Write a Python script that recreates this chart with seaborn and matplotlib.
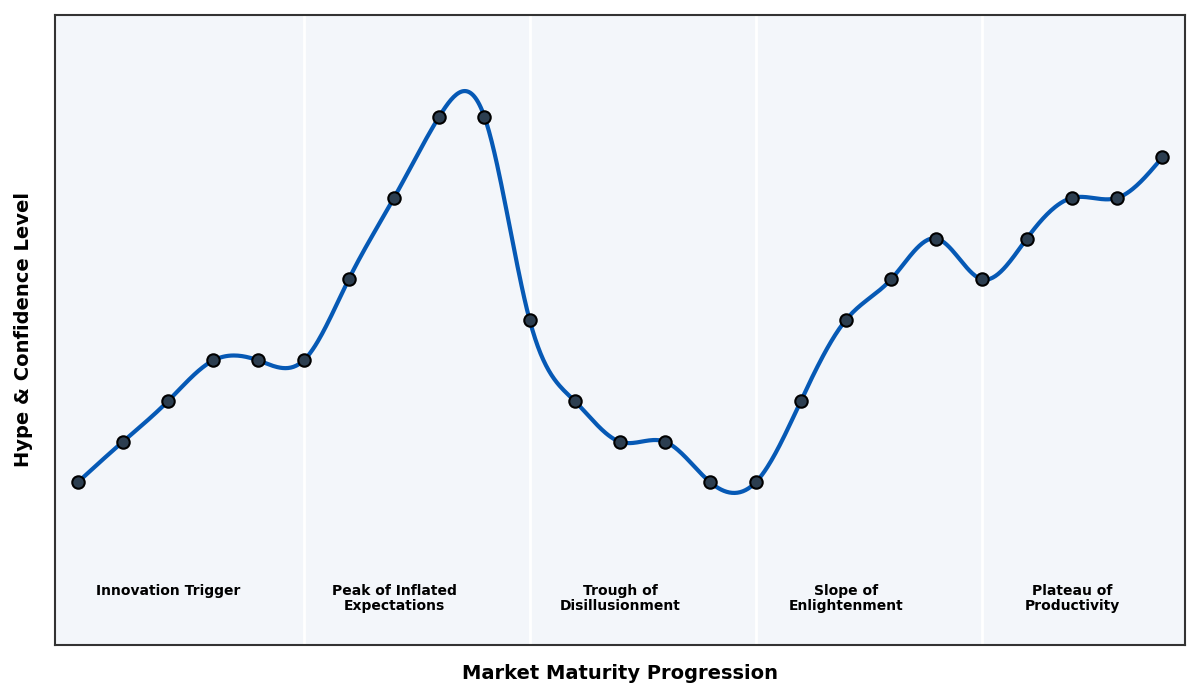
import numpy as np
import pandas as pd
import matplotlib
matplotlib.use("Agg")
import matplotlib.pyplot as plt
import seaborn as sns

# ---- data ----
stage_index = list(range(25))
hype_level = [1, 2, 3, 4, 4, 4, 6, 8, 10, 10, 5, 3, 2, 2, 1, 1, 3, 5, 6, 7, 6, 7, 8, 8, 9]
phase_names = ["Innovation Trigger", "Peak of Inflated\nExpectations",
               "Trough of\nDisillusionment", "Slope of\nEnlightenment",
               "Plateau of\nProductivity"]
phase_starts = [0, 5, 10, 15, 20]
phase_label_x = [2, 7, 12, 17, 22]


def natural_cubic_spline(x, y, xs):
    x = np.asarray(x, float)
    y = np.asarray(y, float)
    n = len(x)
    h = np.diff(x)
    A = np.zeros((n, n))
    b = np.zeros(n)
    A[0, 0] = 1
    A[-1, -1] = 1
    for i in range(1, n - 1):
        A[i, i - 1] = h[i - 1]
        A[i, i] = 2 * (h[i - 1] + h[i])
        A[i, i + 1] = h[i]
        b[i] = 3 * ((y[i + 1] - y[i]) / h[i] - (y[i] - y[i - 1]) / h[i - 1])
    c = np.linalg.solve(A, b)
    bb = np.zeros(n - 1)
    d = np.zeros(n - 1)
    for i in range(n - 1):
        bb[i] = (y[i + 1] - y[i]) / h[i] - h[i] * (2 * c[i] + c[i + 1]) / 3
        d[i] = (c[i + 1] - c[i]) / (3 * h[i])
    idx = np.clip(np.searchsorted(x, xs) - 1, 0, n - 2)
    dx = xs - x[idx]
    return y[idx] + bb[idx] * dx + c[idx] * dx ** 2 + d[idx] * dx ** 3


df = pd.DataFrame({"stage": stage_index, "hype": hype_level})
xs = np.linspace(min(stage_index), max(stage_index), 800)
smooth = pd.DataFrame({"stage": xs, "hype": natural_cubic_spline(stage_index, hype_level, xs)})

sns.set_theme(style="white")
plt.rcParams["font.family"] = ["DejaVu Sans"]

fig = plt.figure(figsize=(12, 7), dpi=100)
ax = fig.add_axes([55 / 1200, 1 - 645 / 700, 1130 / 1200, 630 / 700])
ax.set_facecolor("#f3f6fa")

for s in phase_starts[1:]:
    ax.axvline(s, color="white", lw=2, zorder=1)

sns.lineplot(data=smooth, x="stage", y="hype", ax=ax, color="#0659b5", lw=3, zorder=3)
sns.scatterplot(data=df, x="stage", y="hype", ax=ax, color="#2c3e50", edgecolor="black",
                linewidth=1.5, s=80, zorder=4)

for lx, name in zip(phase_label_x, phase_names):
    ax.text(lx, -1.5, name, ha="center", va="top", fontsize=10, fontweight="bold",
            color="black", linespacing=1.1)

ax.set_xlim(-0.5, 24.5)
ax.set_ylim(-3, 12.5)
ax.set_xticks([])
ax.set_yticks([])
ax.set_xlabel("Market Maturity Progression", fontsize=14, fontweight="bold", labelpad=14,
              color="black")
ax.set_ylabel("Hype & Confidence Level", fontsize=14, fontweight="bold", labelpad=16,
              color="black")
for sp in ax.spines.values():
    sp.set_color("#333333")
    sp.set_linewidth(1.5)

fig.savefig("out.png", dpi=100)
